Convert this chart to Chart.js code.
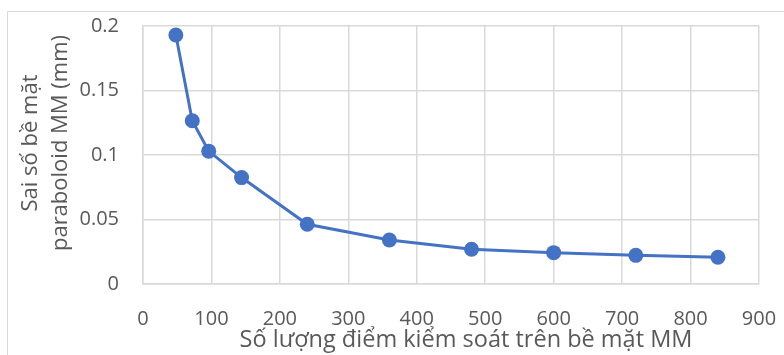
<!DOCTYPE html>
<html>
<head>
<meta charset="utf-8">
<script src="https://cdn.jsdelivr.net/npm/chart.js@4"></script>
<style>
  html, body { margin: 0; padding: 0; background: #fff; }
  #frame {
    position: absolute; left: 7px; top: 11px; width: 800px; height: 360px;
    border-top: 1px solid #d9d9d9; border-left: 1px solid #d9d9d9;
  }
  #wrap { position: absolute; left: 0; top: 0; width: 784px; height: 355px; }
</style>
</head>
<body>
<div id="frame"></div>
<div id="wrap"><canvas id="chart"></canvas></div>
<script>
// Data
const pointCounts = [48, 72, 96, 144, 240, 360, 480, 600, 720, 840];
const surfaceErrors = [0.193, 0.1265, 0.103, 0.0825, 0.0463, 0.0341, 0.0269, 0.0243, 0.0222, 0.0207];
const xTitle = "Số lượng điểm kiểm soát trên bề mặt MM";
const yTitle = ["Sai số bề mặt", "paraboloid MM (mm)"];

const FONT = "'Open Sans', sans-serif";
const TICK_COLOR = "#595959";
const GRID_COLOR = "#d9d9d9";
const LINE_COLOR = "#4472c4";

// Axis titles are placed the way Excel placed them (slightly off the plot centre)
const axisTitles = {
  id: "axisTitles",
  afterDraw(chart) {
    const ctx = chart.ctx;
    ctx.save();
    ctx.fillStyle = TICK_COLOR;
    ctx.textAlign = "center";
    ctx.textBaseline = "middle";
    ctx.font = "23.5px " + FONT;
    ctx.fillText(xTitle, 466, 340);
    ctx.font = "22px " + FONT;
    ctx.translate(31, 143);
    ctx.rotate(-Math.PI / 2);
    yTitle.forEach((line, i) => ctx.fillText(line, 0, i * 30));
    ctx.restore();
  },
};

// invisible tick marks push the labels away from the axis without
// growing the scale's edge padding
const gridOpts = { color: GRID_COLOR, lineWidth: 1.5, drawTicks: true, tickLength: 22, tickColor: "rgba(0,0,0,0)" };

new Chart(document.getElementById("chart"), {
  type: "line",
  data: {
    datasets: [{
      data: pointCounts.map((x, i) => ({ x, y: surfaceErrors[i] })),
      borderColor: LINE_COLOR,
      backgroundColor: LINE_COLOR,
      borderWidth: 3,
      pointRadius: 7.5,
      pointBorderWidth: 0,
      pointHoverRadius: 7.5,
      tension: 0,
    }],
  },
  options: {
    responsive: true,
    maintainAspectRatio: false,
    animation: false,
    layout: { padding: { left: 8, top: 26, right: 25, bottom: 0 } },
    plugins: { legend: { display: false }, tooltip: { enabled: false } },
    scales: {
      x: {
        type: "linear",
        min: 0, max: 900,
        ticks: { stepSize: 100, padding: 1, color: TICK_COLOR, font: { family: FONT, size: 20 } },
        grid: gridOpts,
        border: { color: GRID_COLOR, width: 1.5 },
        afterFit: (s) => { s.height = 71; },
      },
      y: {
        min: 0, max: 0.2,
        ticks: {
          stepSize: 0.05, padding: 2, color: TICK_COLOR, font: { family: FONT, size: 20 },
          callback: (v) => String(Number(v.toFixed(2))),
        },
        grid: gridOpts,
        border: { color: GRID_COLOR, width: 1.5 },
        afterFit: (s) => { s.width = 135; },
      },
    },
  },
  plugins: [axisTitles],
});
</script>
</body>
</html>
